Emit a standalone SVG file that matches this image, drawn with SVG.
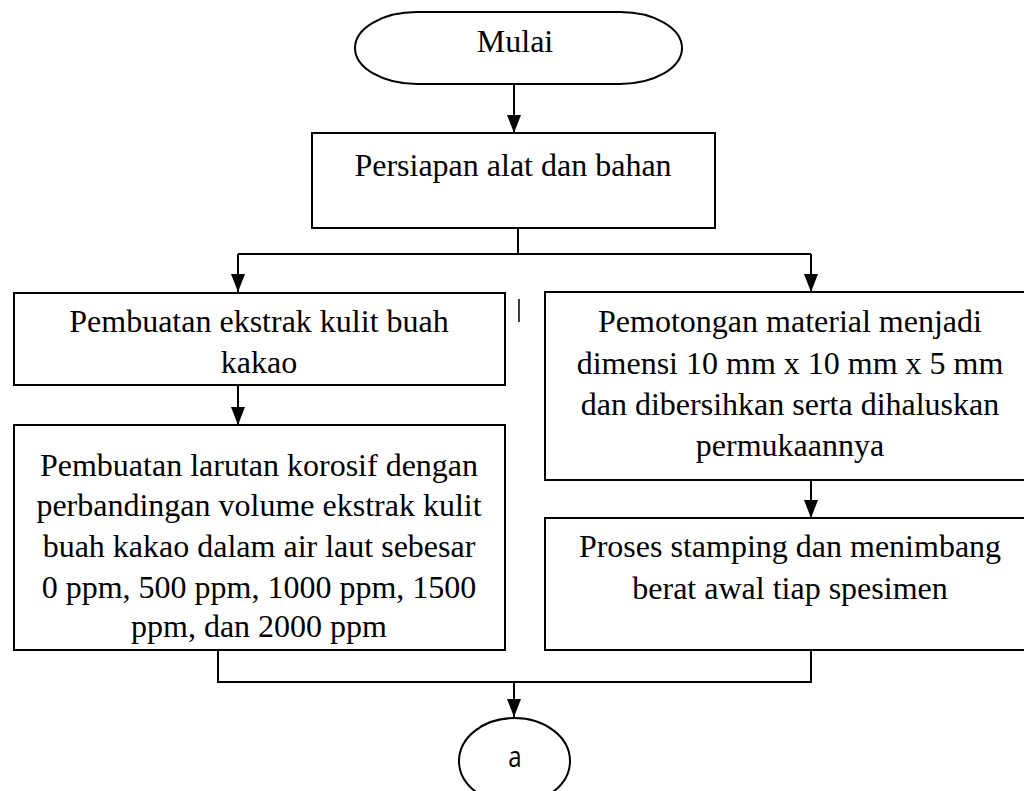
<svg xmlns="http://www.w3.org/2000/svg" width="1024" height="791" viewBox="0 0 1024 791">
<style>
.box{fill:none;stroke:#000;stroke-width:2}
.t{font-family:"Liberation Serif","Times New Roman",serif;font-size:32px;fill:#000;text-anchor:middle}
.c{fill:none;stroke:#000;stroke-width:2}
</style>
<defs>
<marker id="ah" markerUnits="userSpaceOnUse" markerWidth="14" markerHeight="19" refX="14" refY="7" orient="auto" viewBox="0 0 14 19">
<path d="M0,0 L19,7 L0,14 Z" fill="#000" transform="translate(0,0)"/>
</marker>
<marker id="arr" markerUnits="userSpaceOnUse" markerWidth="19" markerHeight="14" refX="18" refY="7" orient="auto" viewBox="0 0 19 14">
<path d="M0,0 L18,7 L0,14 Z" fill="#000"/>
</marker>
</defs>
<rect width="1024" height="791" fill="#fff"/>
<g id="connectors">
<line class="c" x1="514" y1="84" x2="514" y2="133" marker-end="url(#arr)"/>
<polyline class="c" points="518,228 518,254"/>
<polyline class="c" points="238,254 811,254"/>
<line class="c" x1="238" y1="254" x2="238" y2="292" marker-end="url(#arr)"/>
<line class="c" x1="811" y1="254" x2="811" y2="292" marker-end="url(#arr)"/>
<line class="c" x1="238" y1="385" x2="238" y2="425" marker-end="url(#arr)"/>
<line class="c" x1="811" y1="480" x2="811" y2="518" marker-end="url(#arr)"/>
<polyline class="c" points="218,650 218,682 811,682 811,650"/>
<line class="c" x1="514" y1="682" x2="514" y2="717" marker-end="url(#arr)"/>
<line x1="519" y1="299" x2="519" y2="322" stroke="#000" stroke-width="1.5"/>
</g>
<g id="mulai">
<rect class="box" x="355" y="12" width="327" height="72" rx="62" ry="36"/>
<text class="t" x="515" y="52">Mulai</text>
</g>
<g id="persiapan">
<rect class="box" x="312" y="133" width="403" height="95"/>
<text class="t" x="513" y="176">Persiapan alat dan bahan</text>
</g>
<g id="ekstrak">
<rect class="box" x="14" y="293" width="491" height="92"/>
<text class="t" x="259" y="332">Pembuatan ekstrak kulit buah</text>
<text class="t" x="259" y="373">kakao</text>
</g>
<g id="larutan">
<rect class="box" x="14" y="425" width="491" height="225"/>
<text class="t" x="259" y="476">Pembuatan larutan korosif dengan</text>
<text class="t" x="259" y="516">perbandingan volume ekstrak kulit</text>
<text class="t" x="259" y="557">buah kakao dalam air laut sebesar</text>
<text class="t" x="259" y="598">0 ppm, 500 ppm, 1000 ppm, 1500</text>
<text class="t" x="259" y="637">ppm, dan 2000 ppm</text>
</g>
<g id="pemotongan">
<rect class="box" x="545" y="292" width="490" height="188"/>
<text class="t" x="790" y="332">Pemotongan material menjadi</text>
<text class="t" x="790" y="374">dimensi 10 mm x 10 mm x 5 mm</text>
<text class="t" x="790" y="415">dan dibersihkan serta dihaluskan</text>
<text class="t" x="790" y="456">permukaannya</text>
</g>
<g id="stamping">
<rect class="box" x="545" y="518" width="490" height="132"/>
<text class="t" x="790" y="557">Proses stamping dan menimbang</text>
<text class="t" x="790" y="599">berat awal tiap spesimen</text>
</g>
<g id="a">
<ellipse class="box" cx="514.5" cy="761" rx="55.5" ry="43"/>
<text x="0" y="0" transform="translate(515,767) scale(0.8,1)" style="font-family:'Open Sans','Liberation Sans',sans-serif;font-size:30px;text-anchor:middle;fill:#000">a</text>
</g>
</svg>
